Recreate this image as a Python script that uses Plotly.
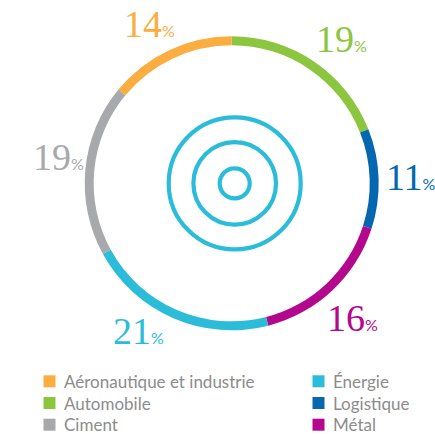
import numpy as np
import plotly.graph_objects as go

# ---- data (clockwise order from 12 o'clock) ----
sectors = ["Automobile", "Logistique", "Métal", "Énergie", "Ciment", "Aéronautique et industrie"]
shares = [19, 11, 16, 21, 19, 14]
colors = ["#8CC63F", "#0467B0", "#B3088D", "#2ABCD8", "#A8A9AD", "#FBAD3F"]

# legend order (two columns)
legend_col1 = ["Aéronautique et industrie", "Automobile", "Ciment"]
legend_col2 = ["Énergie", "Logistique", "Métal"]

W, H = 435, 434
CX, CY, R = 231.7, 183.3, 147.0
color_of = dict(zip(sectors, colors))


def px(x):
    return x / W


def py(y):
    return 1 - y / H


fig = go.Figure()
fig.add_trace(go.Pie(
    labels=sectors, values=shares, sort=False, direction="clockwise", rotation=0,
    hole=0.939, textinfo="none", showlegend=False,
    marker=dict(colors=colors, line=dict(width=0)),
    domain=dict(x=[px(CX - R), px(CX + R)], y=[py(CY + R), py(CY - R)]),
))

# concentric decorative circles
ccx, ccy = 234.7, 183.4
for rr in [66, 41.3, 15]:
    fig.add_shape(type="circle", xref="paper", yref="paper",
                  x0=px(ccx - rr), x1=px(ccx + rr), y0=py(ccy + rr), y1=py(ccy - rr),
                  line=dict(color="#2ABCD8", width=4.2))

# percentage labels placed at slice mid-angles
label_R = 180
nudges = {"Automobile": (9, 5), "Logistique": (-1, -1), "Métal": (-2, 3),
          "Énergie": (-22, -17), "Ciment": (6, -9), "Aéronautique et industrie": (-6, 4)}
vals = np.array(shares, dtype=float)
cum = np.cumsum(vals) / vals.sum() * 360
mid = cum - vals / vals.sum() * 360 / 2
for s, v, a, c in zip(sectors, shares, mid, colors):
    rad = np.deg2rad(a)
    x = CX + label_R * np.sin(rad) + nudges[s][0]
    y = CY - label_R * np.cos(rad) + nudges[s][1]
    fig.add_annotation(
        x=px(x), y=py(y), xref="paper", yref="paper", showarrow=False,
        xanchor="center", yanchor="middle",
        text=f"{v}<span style='font-size:16px;font-family:Lato'>%</span>",
        font=dict(family="Liberation Serif", size=38, color=c),
    )

# manual legend
rows_y = [381.3, 403, 424.7]
for col_items, sx, tx in [(legend_col1, 43.5, 62), (legend_col2, 312.5, 331)]:
    for item, yy in zip(col_items, rows_y):
        fig.add_shape(type="rect", xref="paper", yref="paper",
                      x0=px(sx), x1=px(sx + 12), y0=py(yy + 6), y1=py(yy - 6),
                      fillcolor=color_of[item], line=dict(width=0))
        fig.add_annotation(x=px(tx), y=py(yy), xref="paper", yref="paper", showarrow=False,
                           xanchor="left", yanchor="middle", text=item,
                           font=dict(family="Lato", size=17, color="#8C8C8C"))

fig.update_layout(width=W, height=H, autosize=False, margin=dict(l=0, r=0, t=0, b=0),
                  paper_bgcolor="white", plot_bgcolor="white", showlegend=False)
fig.write_html("out.html", config={"displayModeBar": False},
               post_script="document.body.style.margin='0';document.body.style.overflow='hidden';")
